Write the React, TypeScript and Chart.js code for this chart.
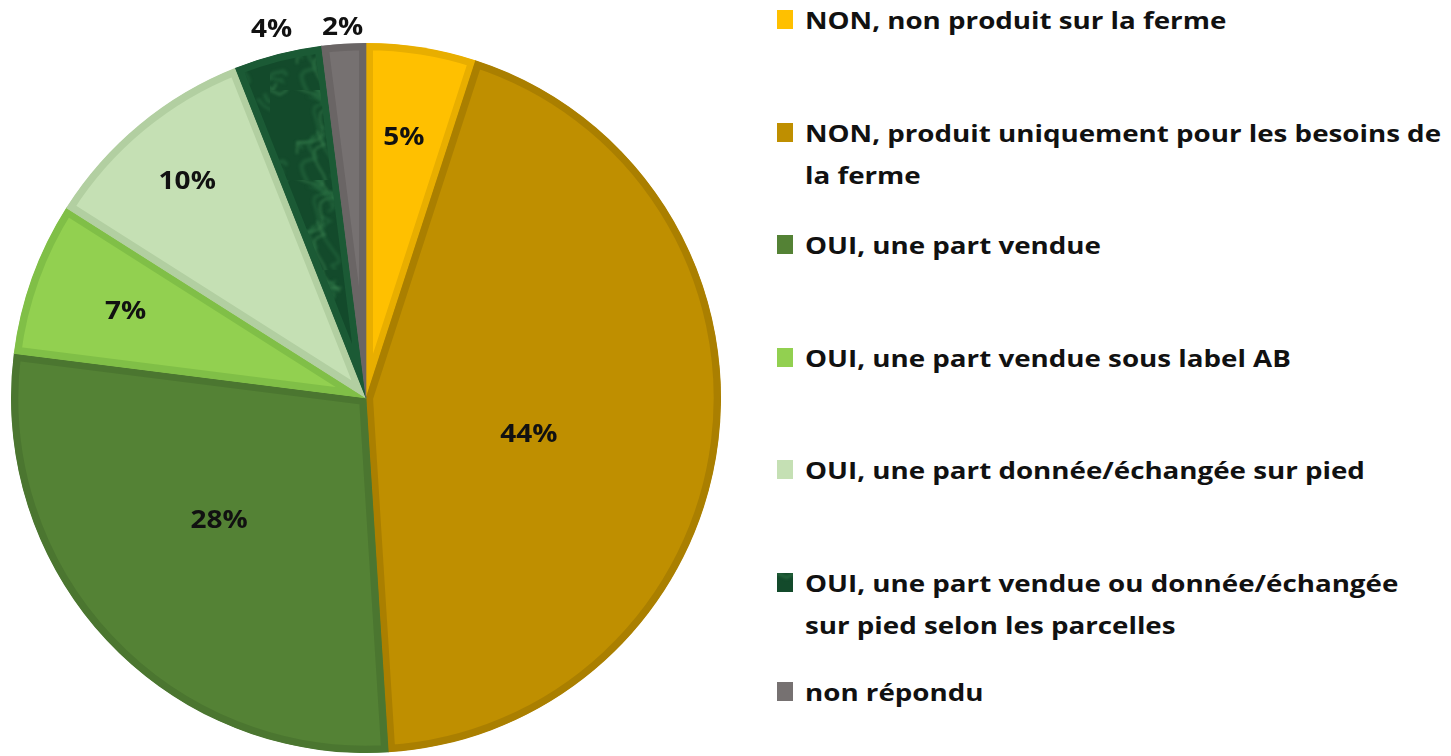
import React, { useEffect, useRef } from "react";
import { Chart, registerables } from "chart.js";

Chart.register(...registerables);

const categories: string[] = [
  "NON, non produit sur la ferme",
  "NON, produit uniquement pour les besoins de\nla ferme",
  "OUI, une part vendue",
  "OUI, une part vendue sous label AB",
  "OUI, une part donnée/échangée sur pied",
  "OUI, une part vendue ou donnée/échangée\nsur pied selon les parcelles",
  "non répondu",
];
const values: number[] = [5, 44, 28, 7, 10, 4, 2];
const percentLabels: string[] = ["5%", "44%", "28%", "7%", "10%", "4%", "2%"];

const fillColors = ["#FFC000", "#BF8F00", "#548235", "#92D050", "#C5E0B4", "#1B5A35", "#767171"];
const borderColors = ["#E8AE00", "#AA7F00", "#4B7630", "#80BF47", "#B2CFA1", "#1B5A35", "#6A6565"];
// label placement: fraction of radius, angle shift in degrees
const labelRadius = [0.74, 0.47, 0.54, 0.72, 0.79, 1.07, 1.045];
const labelShift = [-0.7, 5.5, 3.2, 0, 0, 0, 0];

const FONT = "'Open Sans', Lato, sans-serif";

function makeMarble(): HTMLCanvasElement {
  const c = document.createElement("canvas");
  c.width = 90;
  c.height = 90;
  const g = c.getContext("2d")!;
  g.fillStyle = "#134a2b";
  g.fillRect(0, 0, 90, 90);
  g.lineCap = "round";
  g.filter = "blur(1.5px)";
  for (let k = 0; k < 14; k++) {
    g.beginPath();
    const y0 = (k * 37) % 90;
    const x0 = (k * 53) % 90;
    g.moveTo(x0, y0);
    for (let t = 1; t <= 12; t++) {
      g.lineTo(x0 + t * 5 * Math.cos(k * 1.3) + 6 * Math.sin(t * 0.9 + k), y0 + t * 5 * Math.sin(k * 1.3) + 6 * Math.cos(t * 0.7 + k));
    }
    g.strokeStyle = k % 3 === 0 ? "rgba(80,160,100,0.45)" : "rgba(40,110,65,0.5)";
    g.lineWidth = 2 + (k % 3);
    g.stroke();
  }
  return c;
}

export default function App() {
  const ref = useRef<HTMLCanvasElement | null>(null);
  const [marbleUrl, setMarbleUrl] = React.useState<string>("");

  useEffect(() => {
    const marble = makeMarble();
    setMarbleUrl(marble.toDataURL());
    const ctx = ref.current!.getContext("2d")!;
    const pattern = ctx.createPattern(marble, "repeat")!;
    const bg: (string | CanvasPattern)[] = fillColors.map((c, i) => (i === 5 ? pattern : c));

    const labelPlugin = {
      id: "pctLabels",
      afterDatasetsDraw(chart: any) {
        const meta = chart.getDatasetMeta(0);
        const c = chart.ctx;
        meta.data.forEach((arc: any, i: number) => {
          const p = arc.getProps(["x", "y", "startAngle", "endAngle", "outerRadius"], true);
          const mid = (p.startAngle + p.endAngle) / 2 + (labelShift[i] * Math.PI) / 180;
          const r = p.outerRadius * labelRadius[i];
          c.save();
          c.translate(p.x + Math.cos(mid) * r, p.y + Math.sin(mid) * r);
          c.scale(1.12, 1);
          c.font = `bold 25px ${FONT}`;
          c.fillStyle = "#111";
          c.textAlign = "center";
          c.textBaseline = "middle";
          c.fillText(percentLabels[i], 0, 0);
          c.restore();
        });
      },
    };

    const chart = new Chart(ctx, {
      type: "pie",
      data: {
        labels: categories,
        datasets: [
          {
            data: values,
            backgroundColor: bg as any,
            borderColor: borderColors,
            borderWidth: 7,
            borderAlign: "inner",
            radius: 355,
          } as any,
        ],
      },
      options: {
        animation: false,
        responsive: true,
        maintainAspectRatio: false,
        layout: { padding: { left: 11, top: 43, right: 24, bottom: 3 } },
        plugins: { legend: { display: false }, tooltip: { enabled: false } },
      },
      plugins: [labelPlugin],
    });
    return () => chart.destroy();
  }, []);

  const slotTops = [20, 133, 245, 358, 470, 583, 692];

  return (
    <div style={{ position: "fixed", left: 0, top: 0, width: 1451, height: 756, background: "#fff", overflow: "hidden" }}>
      <div style={{ position: "absolute", left: 0, top: 0, width: 745, height: 756 }}>
        <canvas ref={ref} />
      </div>
      {categories.map((label, i) => (
        <div
          key={i}
          style={{
            position: "absolute",
            left: 777,
            top: slotTops[i] - 21,
            display: "flex",
            alignItems: "flex-start",
            fontFamily: FONT,
            fontWeight: 700,
            fontSize: 24,
            lineHeight: "42px",
            color: "#111",
            whiteSpace: "pre-line",
          }}
        >
          <span
            style={{
              display: "inline-block",
              width: 16,
              height: 19,
              marginTop: 11,
              marginRight: 12,
              flex: "0 0 auto",
              background: i === 5 && marbleUrl ? `url(${marbleUrl})` : fillColors[i],
            }}
          />
          <span style={{ display: "inline-block", transform: "scaleX(1.155)", transformOrigin: "0 0" }}>{label}</span>
        </div>
      ))}
    </div>
  );
}
